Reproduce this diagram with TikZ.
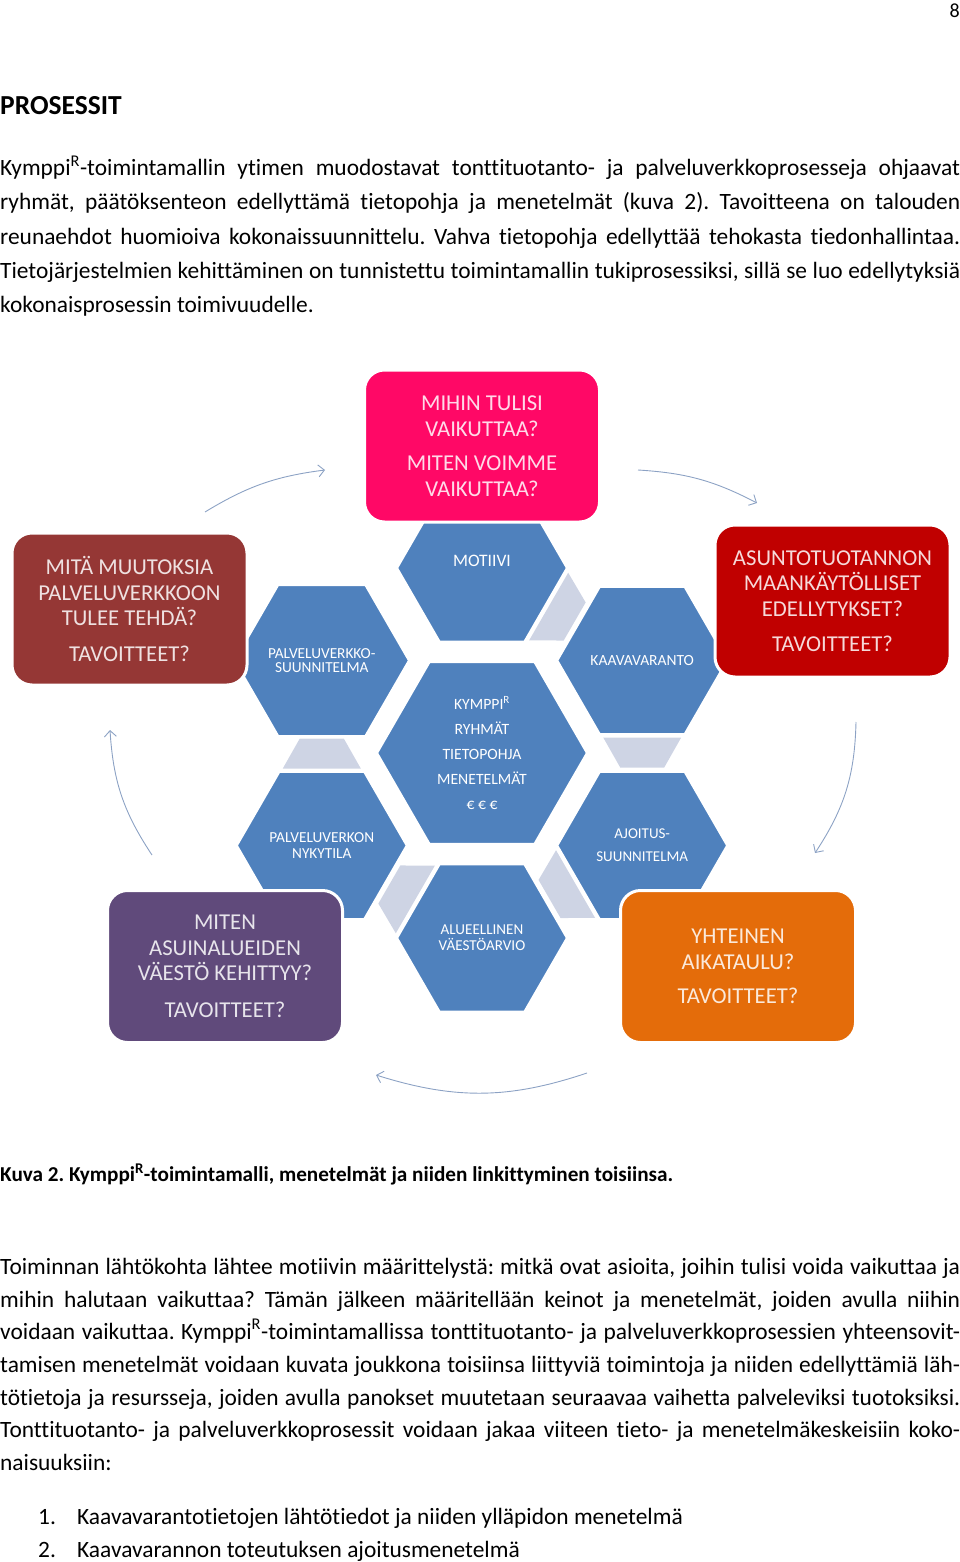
\documentclass[tikz,border=0pt]{standalone}
\usepackage{fontspec}
\setmainfont[Ligatures={TeX,NoCommon}]{Carlito}
\usetikzlibrary{shapes.geometric,arrows.meta}

\definecolor{hexblue}{RGB}{79,129,189}
\definecolor{linkgrey}{RGB}{206,212,228}
\definecolor{pinkbox}{RGB}{255,8,102}
\definecolor{darkredbox}{RGB}{149,55,53}
\definecolor{redbox}{RGB}{192,0,0}
\definecolor{purplebox}{RGB}{96,74,123}
\definecolor{orangebox}{RGB}{228,108,10}
\definecolor{arrowgrey}{RGB}{140,162,196}

\newcommand{\jline}[1]{\makebox[960pt][s]{#1}}

\begin{document}
\frenchspacing
\begin{tikzpicture}[x=1pt,y=1pt,
  bodyline/.style={anchor=base west,inner sep=0pt,font=\fontsize{23.4}{34}\selectfont},
  outerhex/.style={regular polygon,regular polygon sides=6,minimum size=171pt,inner sep=0pt,
    fill=hexblue,draw=white,line width=3pt,text=white,align=center,font=\fontsize{15.1}{16}\selectfont},
  centrehex/.style={outerhex,minimum size=211pt,font=\fontsize{15.7}{25}\selectfont},
  infobox/.style={rounded corners=20pt,minimum width=235pt,minimum height=152pt,inner sep=0pt,
    fill=#1,draw=white,line width=3pt,text=white!85!#1,align=center,font=\fontsize{22.7}{25.5}\selectfont},
  cyclearrow/.style={draw=arrowgrey,line width=0.9pt,-{Straight Barb[length=6pt,width=12pt]}}]
\useasboundingbox (0,0) rectangle (960,-1562);

\node[anchor=base east,inner sep=0pt,font=\fontsize{20}{24}\selectfont] (pagenum) at (960,-18) {8};
\node[anchor=base west,inner sep=0pt,font=\fontsize{27.5}{32}\selectfont\bfseries] (heading) at (0,-115) {PROSESSIT};

\node[bodyline] (p1l1) at (0,-176) {\jline{Kymppi\textsuperscript{R}-toimintamallin ytimen muodostavat tonttituotanto- ja palveluverkkoprosesseja ohjaavat}};
\node[bodyline] (p1l2) at (0,-210) {\jline{ryhmät, päätöksenteon edellyttämä tietopohja ja menetelmät (kuva 2). Tavoitteena on talouden}};
\node[bodyline] (p1l3) at (0,-244) {\jline{reunaehdot huomioiva kokonaissuunnittelu. Vahva tietopohja edellyttää tehokasta tiedonhallintaa.}};
\node[bodyline] (p1l4) at (0,-278) {\jline{Tietojärjestelmien kehittäminen on tunnistettu toimintamallin tukiprosessiksi, sillä se luo edellytyksiä}};
\node[bodyline] (p1l5) at (0,-312) {kokonaisprosessin toimivuudelle.};

\begin{scope}[shift={(482,-753)}]
  \foreach \a in {90,30,-30,-90,-150}
    \fill[linkgrey,shift={(\a:185)},rotate=\a-120] (77,-39) -- (77,39) -- (107,22) -- (107,-22) -- cycle;
  \node[centrehex] (kymppi) at (0,0) {KYMPPI\textsuperscript{R}\\RYHMÄT\\TIETOPOHJA\\MENETELMÄT\\€ € €};
  \node[outerhex,font=\fontsize{17.5}{20}\selectfont,text depth=14pt] (motiivi) at (90:185) {MOTIIVI};
  \node[outerhex,font=\fontsize{15.5}{18}\selectfont] (kaava) at (30:185) {KAAVAVARANTO};
  \node[outerhex,font=\fontsize{15}{23}\selectfont] (ajoitus) at (-30:185) {AJOITUS-\\SUUNNITELMA};
  \node[outerhex] (alue) at (-90:185) {ALUEELLINEN\\VÄESTÖARVIO};
  \node[outerhex,font=\fontsize{15.3}{16}\selectfont] (nykytila) at (-150:185) {PALVELUVERKON\\NYKYTILA};
  \node[outerhex,font=\fontsize{15.3}{14}\selectfont] (palsuun) at (150:185) {PALVELUVERKKO-\\SUUNNITELMA};
\end{scope}

\node[infobox=pinkbox] (vaikutus) at (482,-446) {MIHIN TULISI\\VAIKUTTAA?\\[9pt]MITEN VOIMME\\VAIKUTTAA?};
\node[infobox=darkredbox] (muutokset) at (129.5,-609) {MITÄ MUUTOKSIA\\PALVELUVERKKOON\\TULEE TEHDÄ?\\[10pt]TAVOITTEET?};
\node[infobox=redbox] (asunto) at (832.5,-601) {ASUNTOTUOTANNON\\MAANKÄYTÖLLISET\\EDELLYTYKSET?\\[10pt]TAVOITTEET?};
\node[infobox=purplebox] (vaesto) at (225,-966.5) {MITEN\\ASUINALUEIDEN\\VÄESTÖ KEHITTYY?\\[11pt]TAVOITTEET?};
\node[infobox=orangebox] (aikataulu) at (738,-966.5) {YHTEINEN\\AIKATAULU?\\[9pt]TAVOITTEET?};

\coordinate (a1s) at (205,-512);
\coordinate (a1e) at (325,-470);
\coordinate (a2s) at (638,-470);
\coordinate (a2e) at (757,-503);
\coordinate (a3s) at (856,-722);
\coordinate (a3e) at (815,-853);
\coordinate (a4s) at (587,-1073);
\coordinate (a4e) at (376,-1075);
\coordinate (a5s) at (152,-855);
\coordinate (a5e) at (110,-730);
\draw[cyclearrow] (a1s) to[bend left=12] (a1e);
\draw[cyclearrow] (a2s) to[bend left=12] (a2e);
\draw[cyclearrow] (a3s) to[bend left=16] (a3e);
\draw[cyclearrow] (a4s) to[bend left=18] (a4e);
\draw[cyclearrow] (a5s) to[bend left=15] (a5e);

\node[anchor=base west,inner sep=0pt,font=\fontsize{21.2}{24}\selectfont\bfseries] (caption) at (0,-1181)
  {Kuva 2. Kymppi\textsuperscript{R}-toimintamalli, menetelmät ja niiden linkittyminen toisiinsa.};

\node[bodyline] (p2l1) at (0,-1274) {\jline{Toiminnan lähtökohta lähtee motiivin määrittelystä: mitkä ovat asioita, joihin tulisi voida vaikuttaa ja}};
\node[bodyline] (p2l2) at (0,-1307) {\jline{mihin halutaan vaikuttaa? Tämän jälkeen määritellään keinot ja menetelmät, joiden avulla niihin}};
\node[bodyline] (p2l3) at (0,-1339) {\jline{voidaan vaikuttaa. Kymppi\textsuperscript{R}-toimintamallissa tonttituotanto- ja palveluverkkoprosessien yhteensovit-}};
\node[bodyline] (p2l4) at (0,-1372) {\jline{tamisen menetelmät voidaan kuvata joukkona toisiinsa liittyviä toimintoja ja niiden edellyttämiä läh-}};
\node[bodyline] (p2l5) at (0,-1405) {\jline{tötietoja ja resursseja, joiden avulla panokset muutetaan seuraavaa vaihetta palveleviksi tuotoksiksi.}};
\node[bodyline] (p2l6) at (0,-1437) {\jline{Tonttituotanto- ja palveluverkkoprosessit voidaan jakaa viiteen tieto- ja menetelmäkeskeisiin koko-}};
\node[bodyline] (p2l7) at (0,-1470) {naisuuksiin:};

\node[bodyline] (num1) at (38,-1524) {1.};
\node[bodyline] (item1) at (77,-1524) {Kaavavarantotietojen lähtötiedot ja niiden ylläpidon menetelmä};
\node[bodyline] (num2) at (38,-1557) {2.};
\node[bodyline] (item2) at (77,-1557) {Kaavavarannon toteutuksen ajoitusmenetelmä};
\end{tikzpicture}
\end{document}
